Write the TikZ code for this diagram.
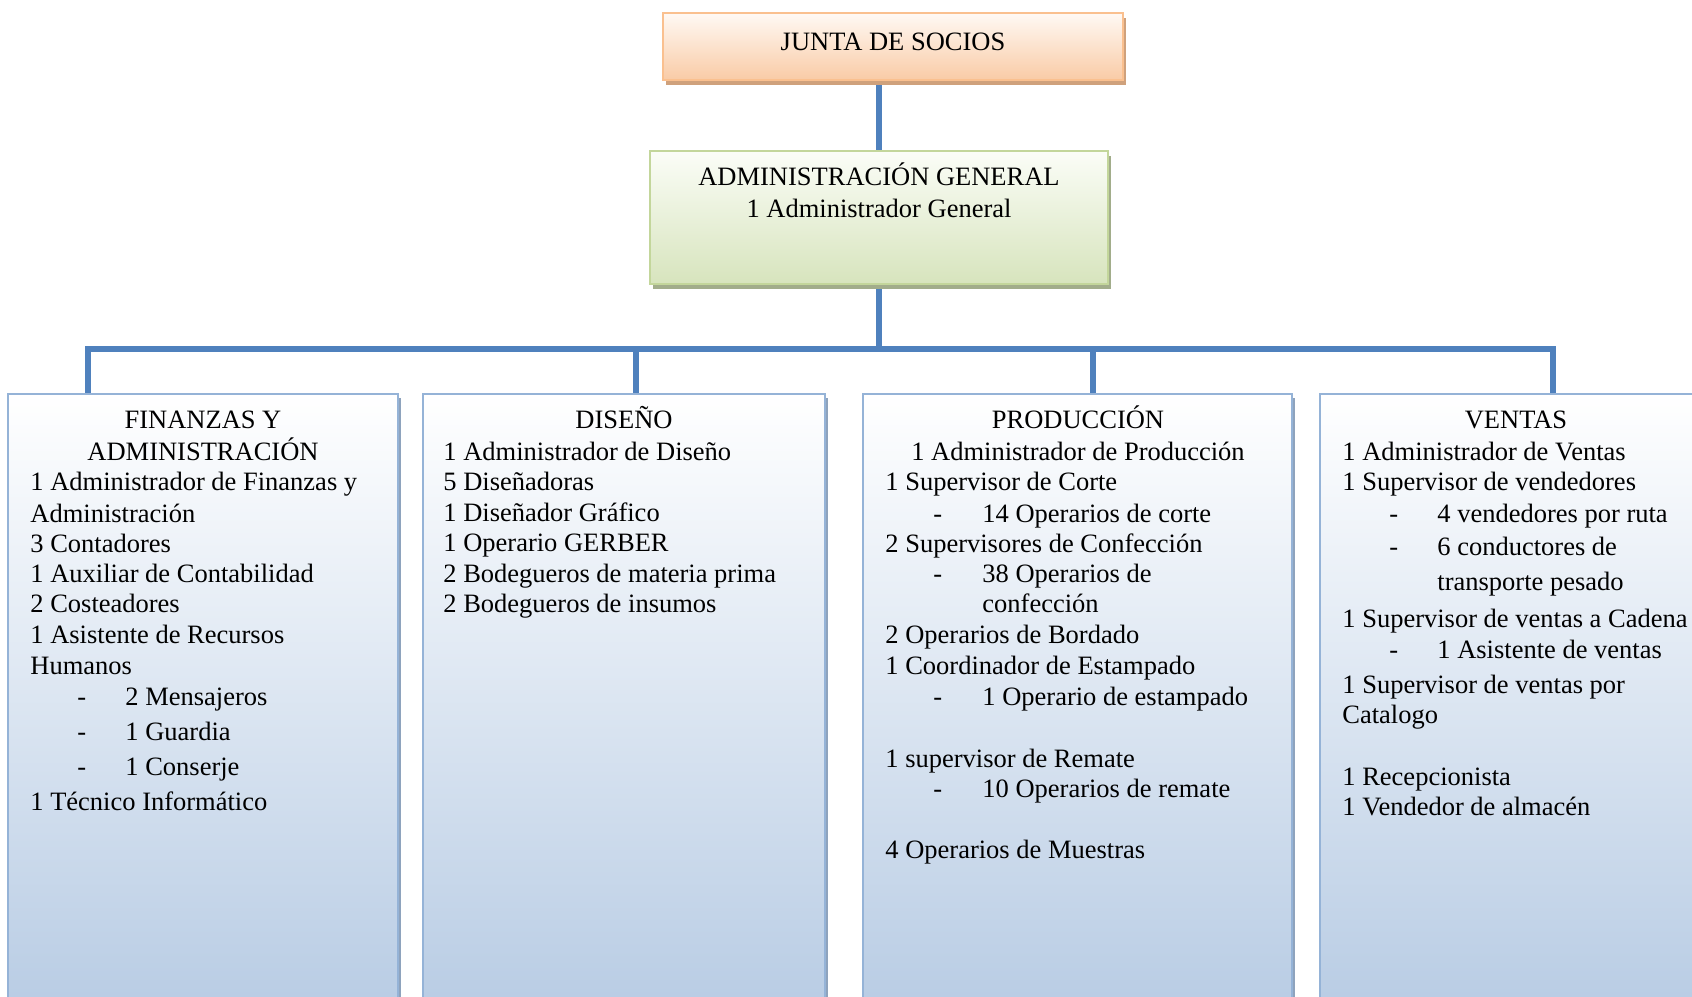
\documentclass[tikz,border=0pt]{standalone}
\usepackage{fontspec}
\setmainfont{Liberation Serif}
\usetikzlibrary{shadows,backgrounds}

\definecolor{linkblue}{HTML}{4F81BD}
\definecolor{deptedge}{HTML}{95B3D7}
\definecolor{depttop}{HTML}{FFFFFF}
\definecolor{deptbot}{HTML}{B8CCE4}
\definecolor{deptshadow}{HTML}{8EA3BD}
\definecolor{boardedge}{HTML}{FAC08F}
\definecolor{boardtop}{HTML}{FFF9F4}
\definecolor{boardbot}{HTML}{F9CBA6}
\definecolor{boardshadow}{HTML}{CFA17C}
\definecolor{mgmtedge}{HTML}{C3D69B}
\definecolor{mgmttop}{HTML}{FBFDF7}
\definecolor{mgmtbot}{HTML}{D7E4BD}
\definecolor{mgmtshadow}{HTML}{A2AD8B}

\begin{document}
\begin{tikzpicture}[x=0.5pt,y=-0.5pt,
  box/.style={rectangle, inner sep=0pt, line width=1.2pt},
  boardbox/.style={box, draw=boardedge, top color=boardtop, bottom color=boardbot,
    drop shadow={shadow xshift=1.5pt, shadow yshift=-2.5pt, fill=boardshadow, opacity=1}},
  mgmtbox/.style={box, draw=mgmtedge, top color=mgmttop, bottom color=mgmtbot,
    drop shadow={shadow xshift=1.5pt, shadow yshift=-2.5pt, fill=mgmtshadow, opacity=1}},
  deptbox/.style={box, draw=deptedge, top color=depttop, bottom color=deptbot,
    minimum height=308pt,
    drop shadow={shadow xshift=1.5pt, shadow yshift=-2pt, fill=deptshadow, opacity=1}},
  link/.style={draw=linkblue, line width=3.2pt, line join=miter, line cap=butt},
  txt/.style={inner sep=0pt, anchor=base west, font=\fontsize{13.25pt}{15.3pt}\selectfont},
  ctxt/.style={txt, anchor=base}]

\useasboundingbox (0,0) rectangle (1692,996);
\clip (0,0) rectangle (1692,996);

% ---- boxes ----
\node[boardbox, minimum width=230pt, minimum height=33.5pt] (junta) at (893,46.5) {};
\node[mgmtbox, minimum width=229pt, minimum height=66.5pt] (admin) at (879,217.5) {};
\node[deptbox, minimum width=195pt] (fin) at (203,702) {};
\node[deptbox, minimum width=201pt] (dis) at (624,702) {};
\node[deptbox, minimum width=214.5pt] (prod) at (1077.5,702) {};
\node[deptbox, minimum width=196pt] (ven) at (1516,702) {};

% ---- junction points on the horizontal bar ----
\coordinate (jf) at (88,349);
\coordinate (jd) at (636,349);
\coordinate (jp) at (1093,349);
\coordinate (jv) at (1553,349);

% ---- connectors ----
\begin{pgfonlayer}{background}
  \draw[link] (admin.north |- junta.south) -- (admin.north);
  \draw[link] (admin.south) -- (admin.south |- jf);
  \draw[link] (jf |- fin.north) -- (jf) -- (jv) -- (jv |- ven.north);
  \draw[link] (jd) -- (jd |- dis.north);
  \draw[link] (jp) -- (jp |- prod.north);
\end{pgfonlayer}

% ---- top boxes text ----
\node[ctxt] (junta-t) at (893,50) {JUNTA DE SOCIOS};
\node[ctxt] (admin-t1) at (879,185) {ADMINISTRACIÓN GENERAL};
\node[ctxt] (admin-t2) at (879,217) {1 Administrador General};

% ---- Finanzas y Administración ----
\node[ctxt] (fin-h1) at (203,428) {FINANZAS Y};
\node[ctxt] (fin-h2) at (203,460) {ADMINISTRACIÓN};
\foreach \y/\t [count=\i] in {490/1 Administrador de Finanzas y, 522/Administración,
    552/3 Contadores, 582/1 Auxiliar de Contabilidad, 612/2 Costeadores,
    643/1 Asistente de Recursos, 674/Humanos, 810/1 Técnico Informático}
  \node[txt] (fin-l\i) at (30,\y) {\t};
\foreach \y/\t [count=\i] in {705/2 Mensajeros, 740/1 Guardia, 775/1 Conserje} {
  \node[txt] (fin-d\i) at (77,\y) {-};
  \node[txt] (fin-s\i) at (125,\y) {\t};
}

% ---- Diseño ----
\node[ctxt] (dis-h) at (624,428) {DISEÑO};
\foreach \y/\t [count=\i] in {460/1 Administrador de Diseño, 490/5 Diseñadoras,
    521/1 Diseñador Gráfico, 551/1 Operario GERBER,
    582/2 Bodegueros de materia prima, 612/2 Bodegueros de insumos}
  \node[txt] (dis-l\i) at (443,\y) {\t};

% ---- Producción ----
\node[ctxt] (prod-h1) at (1078,428) {PRODUCCIÓN};
\node[ctxt] (prod-h2) at (1078,460) {1 Administrador de Producción};
\foreach \y/\t [count=\i] in {490/1 Supervisor de Corte, 552/2 Supervisores de Confección,
    643/2 Operarios de Bordado, 674/1 Coordinador de Estampado,
    767/1 supervisor de Remate, 858/4 Operarios de Muestras}
  \node[txt] (prod-l\i) at (885,\y) {\t};
\foreach \y/\t [count=\i] in {522/14 Operarios de corte, 582/38 Operarios de,
    705/1 Operario de estampado, 797/10 Operarios de remate} {
  \node[txt] (prod-d\i) at (933,\y) {-};
  \node[txt] (prod-s\i) at (982,\y) {\t};
}
\node[txt] (prod-c1) at (982,612) {confección};

% ---- Ventas ----
\node[ctxt] (ven-h) at (1516,428) {VENTAS};
\foreach \y/\t [count=\i] in {460/1 Administrador de Ventas, 490/1 Supervisor de vendedores,
    627/1 Supervisor de ventas a Cadena, 693/1 Supervisor de ventas por,
    723/Catalogo, 785/1 Recepcionista, 815/1 Vendedor de almacén}
  \node[txt] (ven-l\i) at (1342,\y) {\t};
\foreach \y/\t [count=\i] in {522/4 vendedores por ruta, 555/6 conductores de,
    658/1 Asistente de ventas} {
  \node[txt] (ven-d\i) at (1389,\y) {-};
  \node[txt] (ven-s\i) at (1437,\y) {\t};
}
\node[txt] (ven-c1) at (1437,590) {transporte pesado};

\end{tikzpicture}
\end{document}
